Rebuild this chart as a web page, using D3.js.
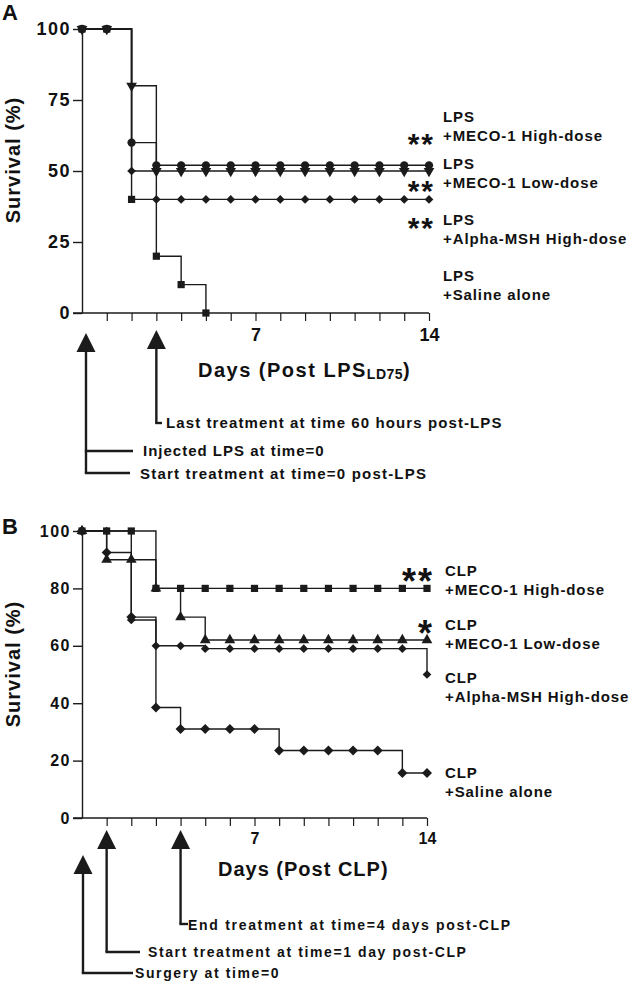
<!DOCTYPE html>
<html>
<head>
<meta charset="utf-8">
<script src="https://cdn.jsdelivr.net/npm/d3@7"></script>
<style>
  body { margin: 0; background: #fff; }
  svg text { font-family: "Liberation Sans", Arial, sans-serif; font-weight: bold; fill: #111; }
</style>
</head>
<body>
<div id="chart"></div>
<script>
// values (survival %, one value per day)
const days = [0, 1, 2, 3, 4, 5, 6, 7, 8, 9, 10, 11, 12, 13, 14];

// A: LPS model
const lpsMecoHigh  = [100, 100, 60, 52, 52, 52, 52, 52, 52, 52, 52, 52, 52, 52, 52];
const lpsMecoLow   = [100, 100, 80, 50, 50, 50, 50, 50, 50, 50, 50, 50, 50, 50, 50];
const lpsAlphaHigh = [100, 100, 50, 40, 40, 40, 40, 40, 40, 40, 40, 40, 40, 40, 40];
const lpsSaline    = [100, 100, 40, 20, 10, 0];

// B: CLP model
const clpMecoHigh  = [100, 100, 100, 80, 80, 80, 80, 80, 80, 80, 80, 80, 80, 80, 80];
const clpMecoLow   = [100, 90, 90, 80, 70, 62, 62, 62, 62, 62, 62, 62, 62, 62, 62];
const clpAlphaHigh = [100, 100, 69, 60, 60, 59, 59, 59, 59, 59, 59, 59, 59, 59, 50];
const clpSaline    = [100, 92.5, 70, 38.5, 31, 31, 31, 31, 23.5, 23.5, 23.5, 23.5, 23.5, 15.7, 15.7];

const yTicksA = [0, 25, 50, 75, 100];
const yTicksB = [0, 20, 40, 60, 80, 100];
const xLabelDays = [7, 14];

const legendA = [
  { group: "LPS", treat: "+MECO-1 High-dose", sig: "**" },
  { group: "LPS", treat: "+MECO-1 Low-dose", sig: "**" },
  { group: "LPS", treat: "+Alpha-MSH High-dose", sig: "**" },
  { group: "LPS", treat: "+Saline alone", sig: "" }
];
const legendB = [
  { group: "CLP", treat: "+MECO-1 High-dose", sig: "**" },
  { group: "CLP", treat: "+MECO-1 Low-dose", sig: "*" },
  { group: "CLP", treat: "+Alpha-MSH High-dose", sig: "" },
  { group: "CLP", treat: "+Saline alone", sig: "" }
];

const notesA = ["Last treatment at time 60 hours post-LPS", "Injected LPS at time=0", "Start treatment at time=0 post-LPS"];
const notesB = ["End treatment at time=4 days post-CLP", "Start treatment at time=1 day post-CLP", "Surgery at time=0"];

const W = 632, H = 984;
const ink = "#1b1b1b";

const svg = d3.select("#chart").append("svg")
  .attr("width", W)
  .attr("height", H);

const xA = d3.scaleLinear().domain([0, 14]).range([82, 429]);
const yA = d3.scaleLinear().domain([0, 100]).range([313, 29]);
const xB = d3.scaleLinear().domain([0, 14]).range([82, 427]);
const yB = d3.scaleLinear().domain([0, 100]).range([818, 531]);

// marker shapes
function marker(kind) {
  if (kind === "circle") return { d: d3.symbol(d3.symbolCircle, 54)(), rot: 0 };
  if (kind === "triDown") return { d: d3.symbol(d3.symbolTriangle, 50)(), rot: 180 };
  if (kind === "triUp") return { d: d3.symbol(d3.symbolTriangle, 50)(), rot: 0 };
  if (kind === "square") return { d: d3.symbol(d3.symbolSquare, 52)(), rot: 0 };
  if (kind === "diamond") return { d: d3.symbol(d3.symbolSquare, 38)(), rot: 45 };
  return { d: d3.symbol(d3.symbolSquare, 50)(), rot: 45 };
}

function drawPanel(x, y, yTicks, series, yFont, xFont) {
  const g = svg.append("g");

  // y axis
  g.append("g")
    .attr("transform", `translate(${x(0)},0)`)
    .call(d3.axisLeft(y).tickValues(yTicks).tickSize(9).tickSizeOuter(0).tickPadding(2))
    .call(a => a.selectAll("path,line").attr("stroke", ink).attr("stroke-width", 1.4))
    .call(a => a.selectAll("text")
      .attr("font-family", null)
      .style("font-size", yFont + "px")
      .style("letter-spacing", "1.5px"));

  // x axis, minor ticks every day, labels on 7 and 14
  g.append("g")
    .attr("transform", `translate(0,${y(0)})`)
    .call(d3.axisBottom(x).tickValues(days.slice(1)).tickSize(8).tickPadding(7)
      .tickFormat(d => xLabelDays.includes(d) ? d : ""))
    .call(a => a.select(".domain").remove())
    .call(a => a.selectAll("line").attr("stroke", ink).attr("stroke-width", 1.2))
    .call(a => a.selectAll("text")
      .attr("font-family", null)
      .style("font-size", xFont + "px"));

  g.append("line")
    .attr("x1", x(0) - 9).attr("x2", x(14))
    .attr("y1", y(0)).attr("y2", y(0))
    .attr("stroke", ink).attr("stroke-width", 1.4);

  const line = d3.line()
    .x((d, i) => x(days[i]))
    .y(d => y(d))
    .curve(d3.curveStepAfter);

  series.forEach(s => {
    g.append("path")
      .datum(s.values)
      .attr("d", line)
      .attr("fill", "none")
      .attr("stroke", ink)
      .attr("stroke-width", 1.4);
  });

  series.forEach(s => {
    const m = marker(s.shape);
    g.selectAll(null)
      .data(s.values)
      .enter()
      .append("path")
      .attr("d", m.d)
      .attr("transform", (d, i) => `translate(${x(days[i])},${y(d)}) rotate(${m.rot})`)
      .attr("fill", ink);
  });
  return g;
}

drawPanel(xA, yA, yTicksA, [
  { values: lpsSaline, shape: "square" },
  { values: lpsAlphaHigh, shape: "diamond" },
  { values: lpsMecoLow, shape: "triDown" },
  { values: lpsMecoHigh, shape: "circle" }
], 18, 18);

drawPanel(xB, yB, yTicksB, [
  { values: clpSaline, shape: "bigDiamond" },
  { values: clpAlphaHigh, shape: "diamond" },
  { values: clpMecoLow, shape: "triUp" },
  { values: clpMecoHigh, shape: "square" }
], 16, 16);

// panel letters
svg.append("text").attr("x", 2).attr("y", 20).style("font-size", "22px").text("A");
svg.append("text").attr("x", 2).attr("y", 534).style("font-size", "22px").text("B");

// y titles
[[160], [664]].forEach(([cy]) => {
  svg.append("text")
    .attr("transform", `translate(20,${cy}) rotate(-90)`)
    .attr("text-anchor", "middle")
    .style("font-size", "20px")
    .style("letter-spacing", "1px")
    .text("Survival (%)");
});

// x titles
const tA = svg.append("text")
  .attr("x", 198).attr("y", 377)
  .style("font-size", "20px")
  .style("letter-spacing", "1.5px");
tA.append("tspan").text("Days (Post LPS");
tA.append("tspan").attr("dy", 2).style("font-size", "14px").style("letter-spacing", "0.5px").text("LD75");
tA.append("tspan").attr("dy", -2).text(")");

svg.append("text")
  .attr("x", 218).attr("y", 876)
  .style("font-size", "20px")
  .style("letter-spacing", "1px")
  .text("Days (Post CLP)");

// legends
function drawLegend(items, x, baselines, sigX, sigBaselines, sigSize) {
  items.forEach((it, i) => {
    const t = svg.append("text")
      .attr("x", x).attr("y", baselines[i])
      .style("font-size", "15px")
      .style("letter-spacing", "0.9px");
    t.append("tspan").attr("x", x).text(it.group);
    t.append("tspan").attr("x", x).attr("dy", 19).text(it.treat);
    if (it.sig) {
      svg.append("text")
        .attr("x", sigX).attr("y", sigBaselines[i])
        .attr("text-anchor", "end")
        .style("font-size", sigSize + "px")
        .style("letter-spacing", "2px")
        .text(it.sig);
    }
  });
}
drawLegend(legendA, 443, [122, 169, 225, 281], 435, [154, 201, 238], 30);
drawLegend(legendB, 445, [576, 630, 683, 778], 434, [594, 646], 36);

// treatment arrows
function arrow(x, top, bottom) {
  svg.append("path")
    .attr("d", `M${x},${top}L${x - 9.5},${top + 19}L${x + 9.5},${top + 19}Z`)
    .attr("fill", ink);
  svg.append("line")
    .attr("x1", x).attr("x2", x)
    .attr("y1", top + 18).attr("y2", bottom)
    .attr("stroke", ink).attr("stroke-width", 2.4);
}
function branch(x1, x2, yy) {
  svg.append("line")
    .attr("x1", x1 - 1.2).attr("x2", x2)
    .attr("y1", yy).attr("y2", yy)
    .attr("stroke", ink).attr("stroke-width", 2.4);
}
function note(text, x, yy, fs, ls) {
  svg.append("text")
    .attr("x", x).attr("y", yy)
    .style("font-size", fs + "px")
    .style("letter-spacing", ls + "px")
    .text(text);
}

const a0 = xA(0) + 4, a3 = xA(3);
arrow(a0, 333, 473);
arrow(a3, 330, 423);
branch(a0, 133, 451);
branch(a0, 130, 473);
branch(a3, 162, 423);
note(notesA[0], 166, 428, 15, 1.1);
note(notesA[1], 143, 456, 15, 1);
note(notesA[2], 140, 479, 15, 1.2);

const b0 = xB(0) + 1, b1 = xB(1), b4 = xB(4);
arrow(b0, 855, 973);
arrow(b1, 830, 952);
arrow(b4, 830, 924);
branch(b0, 133, 973);
branch(b1, 140, 952);
branch(b4, 188, 924);
note(notesB[0], 188, 930, 14, 1.7);
note(notesB[1], 148, 957, 14, 1.6);
note(notesB[2], 135, 978, 14, 1.6);
</script>
</body>
</html>
